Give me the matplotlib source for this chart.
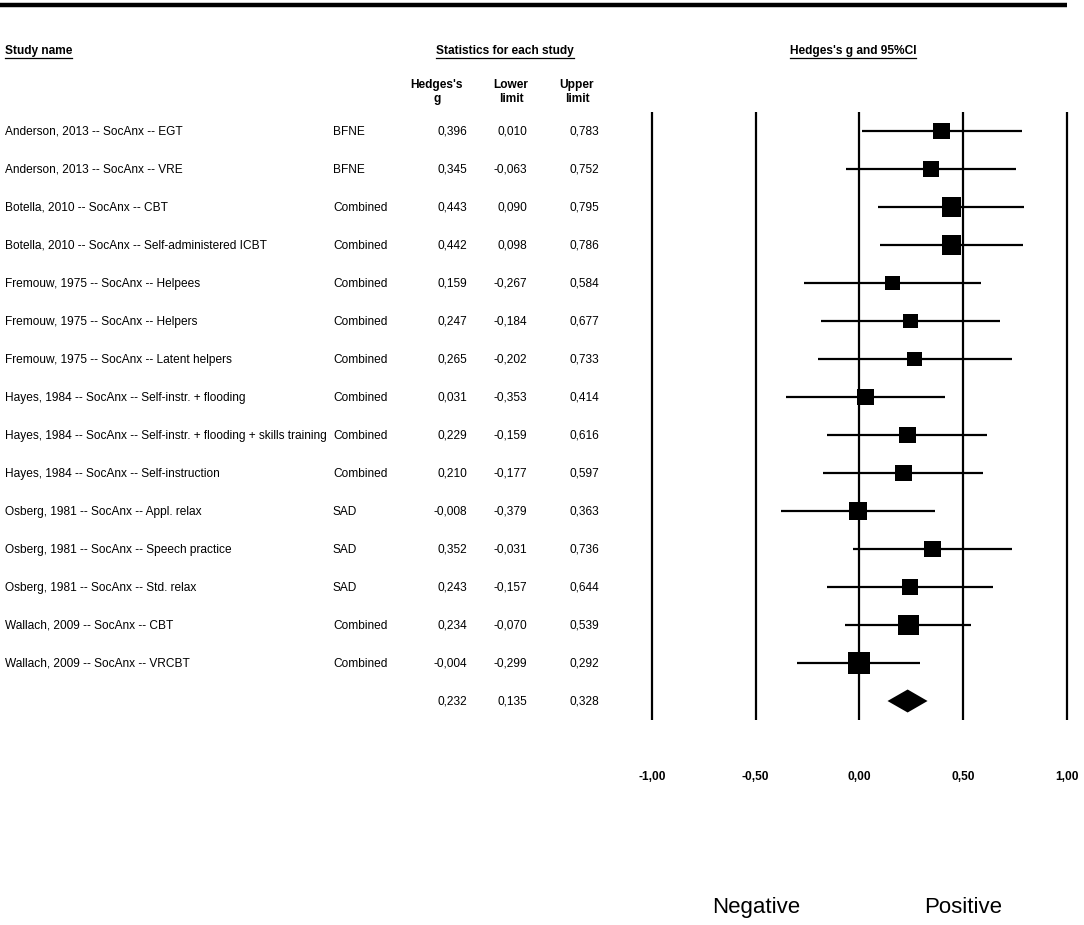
import matplotlib
matplotlib.use("Agg")
import matplotlib.pyplot as plt
import numpy as np

plt.rcParams['font.family'] = ['Liberation Sans', 'DejaVu Sans']

studies = [
    "Anderson, 2013 -- SocAnx -- EGT",
    "Anderson, 2013 -- SocAnx -- VRE",
    "Botella, 2010 -- SocAnx -- CBT",
    "Botella, 2010 -- SocAnx -- Self-administered ICBT",
    "Fremouw, 1975 -- SocAnx -- Helpees",
    "Fremouw, 1975 -- SocAnx -- Helpers",
    "Fremouw, 1975 -- SocAnx -- Latent helpers",
    "Hayes, 1984 -- SocAnx -- Self-instr. + flooding",
    "Hayes, 1984 -- SocAnx -- Self-instr. + flooding + skills training",
    "Hayes, 1984 -- SocAnx -- Self-instruction",
    "Osberg, 1981 -- SocAnx -- Appl. relax",
    "Osberg, 1981 -- SocAnx -- Speech practice",
    "Osberg, 1981 -- SocAnx -- Std. relax",
    "Wallach, 2009 -- SocAnx -- CBT",
    "Wallach, 2009 -- SocAnx -- VRCBT",
]
outcomes = ["BFNE", "BFNE", "Combined", "Combined", "Combined", "Combined",
            "Combined", "Combined", "Combined", "Combined", "SAD", "SAD", "SAD",
            "Combined", "Combined"]
hedges_g = [0.396, 0.345, 0.443, 0.442, 0.159, 0.247, 0.265, 0.031, 0.229,
            0.210, -0.008, 0.352, 0.243, 0.234, -0.004]
lower = [0.010, -0.063, 0.090, 0.098, -0.267, -0.184, -0.202, -0.353, -0.159,
         -0.177, -0.379, -0.031, -0.157, -0.070, -0.299]
upper = [0.783, 0.752, 0.795, 0.786, 0.584, 0.677, 0.733, 0.414, 0.616,
         0.597, 0.363, 0.736, 0.644, 0.539, 0.292]
rel_weight = [6.3, 5.6, 7.9, 7.9, 4.9, 4.9, 4.6, 6.3, 6.3, 6.3, 6.7, 6.3,
              5.6, 9.6, 10.6]
summary = (0.232, 0.135, 0.328)
ticks = [-1.0, -0.5, 0.0, 0.5, 1.0]
tick_labels = ["-1,00", "-0,50", "0,00", "0,50", "1,00"]

W, H = 1084, 925
fig = plt.figure(figsize=(W / 100, H / 100), dpi=100)
ax = fig.add_axes([0, 0, 1, 1])
ax.axis('off')

X0, S = 859.5, 207.5
Y0, R = 131.0, 38.0
FS = 8.6
DY = 1.0 / R  # small downward text offset (row units)


def px2x(p):
    return (p - X0) / S


def py2r(p):
    return (p - Y0) / R


ax.set_xlim(px2x(0), px2x(W))
ax.set_ylim(py2r(H), py2r(0))

fmt = lambda v: f"{v:.3f}".replace('.', ',')
n = len(studies)
rows = np.arange(n)

# top rule
ax.plot([px2x(0), px2x(1067)], [py2r(5), py2r(5)], color='black', lw=3.2,
        solid_capstyle='butt')

# headers
hdr = []
hdr.append(ax.text(px2x(5), py2r(51), "Study name", fontsize=FS, fontweight='bold',
                   ha='left', va='center'))
hdr.append(ax.text(px2x(505), py2r(51), "Statistics for each study", fontsize=FS,
                   fontweight='bold', ha='center', va='center'))
hdr.append(ax.text(px2x(853), py2r(51), "Hedges's g and 95%CI", fontsize=FS,
                   fontweight='bold', ha='center', va='center'))
for xc, t in [(437, "Hedges's\ng"), (511, "Lower\nlimit"), (577, "Upper\nlimit")]:
    ax.text(px2x(xc), py2r(92), t, fontsize=FS, fontweight='bold', ha='center',
            va='center', linespacing=1.25)

# grid lines
ax.vlines(ticks, py2r(112), py2r(720), color='black', lw=1.6)

# rows
for i in range(n):
    y = i + DY
    ax.text(px2x(5), y, studies[i], fontsize=FS, ha='left', va='center')
    ax.text(px2x(333), y, outcomes[i], fontsize=FS, ha='left', va='center')
    ax.text(px2x(467), y, fmt(hedges_g[i]), fontsize=FS, ha='right', va='center')
    ax.text(px2x(527), y, fmt(lower[i]), fontsize=FS, ha='right', va='center')
    ax.text(px2x(599), y, fmt(upper[i]), fontsize=FS, ha='right', va='center')

ax.hlines(rows, lower, upper, color='black', lw=1.6)
sides = 6.77 * np.sqrt(np.array(rel_weight)) * 0.72
ax.scatter(hedges_g, rows, s=sides ** 2, marker='s', color='black', zorder=3,
           linewidths=0)

# summary
g, lo, hi = summary
ax.text(px2x(467), n + DY, fmt(g), fontsize=FS, ha='right', va='center')
ax.text(px2x(527), n + DY, fmt(lo), fontsize=FS, ha='right', va='center')
ax.text(px2x(599), n + DY, fmt(hi), fontsize=FS, ha='right', va='center')
h = 11.5 / R
ax.fill([lo, g, hi, g], [n, n - h, n, n + h], color='black', lw=0)

# tick labels
for t, lab in zip(ticks, tick_labels):
    ax.text(t, py2r(777), lab, fontsize=FS, fontweight='bold', ha='center',
            va='center')

ax.text(-0.5, py2r(908), "Negative", fontsize=16, ha='center', va='center')
ax.text(0.5, py2r(908), "Positive", fontsize=16, ha='center', va='center')

# underline headers
fig.canvas.draw()
rend = fig.canvas.get_renderer()
inv = ax.transData.inverted()
for t in hdr:
    bb = t.get_window_extent(rend)
    (x1, y1) = inv.transform((bb.x0, bb.y0 - 1))
    (x2, _) = inv.transform((bb.x1, bb.y0 - 1))
    ax.plot([x1, x2], [y1, y1], color='black', lw=0.9)

fig.savefig("out.png", dpi=100)
